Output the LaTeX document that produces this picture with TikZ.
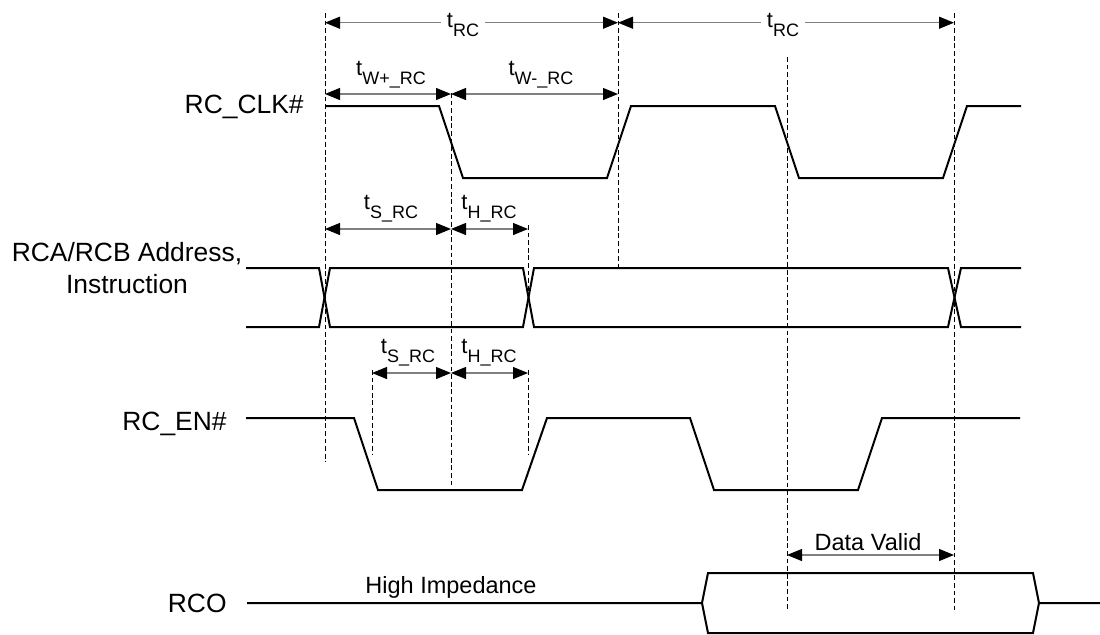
\documentclass[tikz,border=0pt]{standalone}
\usepackage{fontspec}
\setmainfont{Liberation Sans}
\usetikzlibrary{arrows.meta}

\newcommand{\tlab}[1]{{\fontsize{11}{13}\selectfont t\raisebox{-4.5pt}{\fontsize{9}{9}\selectfont #1}}}

\tikzset{
  wave/.style={line width=1pt, line join=miter},
  mark line/.style={line width=0.5pt, dash pattern=on 2.4pt off 1.4pt},
  dim/.style={gray, line width=0.6pt,
    {Triangle[length=7.5pt, width=6pt, color=black]}-{Triangle[length=7.5pt, width=6pt, color=black]}},
  sig/.style={font=\fontsize{13.2}{16}\selectfont, inner sep=0pt},
  note/.style={font=\fontsize{11.75}{14}\selectfont, inner sep=0pt},
  tl/.style={inner sep=0pt, anchor=base}
}

\begin{document}
\begin{tikzpicture}[x=0.5pt, y=-0.5pt]
\useasboundingbox (0,0) rectangle (1100,634);

% dashed time marks
\draw[mark line] (325,13) -- (325,462);
\draw[mark line] (451,93) -- (451,485);
\draw[mark line] (618,13) -- (618,268);
\draw[mark line] (787,57) -- (787,610);
\draw[mark line] (954,13) -- (954,610);
\draw[mark line] (528,225) -- (528,298);
\draw[mark line] (528,370) -- (528,455);
\draw[mark line] (372,370) -- (372,455);

% dimension arrows
\draw[dim] (325,22.7) -- (618,22.7);
\draw[dim] (618,22.7) -- (954,22.7);
\draw[dim] (325,94) -- (451,94);
\draw[dim] (451,94) -- (618,94);
\draw[dim] (325,229) -- (451,229);
\draw[dim] (451,229) -- (528,229);
\draw[dim] (372,373) -- (451,373);
\draw[dim] (451,373) -- (528,373);
\draw[dim] (787,555) -- (954,555);

\node[tl, fill=white, inner xsep=3pt] (trc1) at (463,27) {\tlab{RC}};
\node[tl, fill=white, inner xsep=3pt] (trc2) at (783,27) {\tlab{RC}};
\node[tl] (twp) at (391,75) {\tlab{W+\_RC}};
\node[tl] (twm) at (541,75) {\tlab{W-\_RC}};
\node[tl] (ts1) at (391,209) {\tlab{S\_RC}};
\node[tl] (th1) at (489,209) {\tlab{H\_RC}};
\node[tl] (ts2) at (408,353) {\tlab{S\_RC}};
\node[tl] (th2) at (489,353) {\tlab{H\_RC}};

% signal names
\node[sig, anchor=base east] (clk) at (304,113) {RC\_CLK\#};
\node[sig, anchor=base, align=center] (addr) at (127,293) {RCA/RCB Address,\\Instruction};
\node[sig, anchor=base east] (en) at (227,430) {RC\_EN\#};
\node[sig, anchor=base east] (rco) at (227,612) {RCO};

% waveforms
\draw[wave] (325,106) -- (439,106) -- (463,178) -- (607,178) -- (631,106)
  -- (775,106) -- (799,178) -- (943,178) -- (967,106) -- (1021,106);

\draw[wave] (246,268) -- (319,268) -- (330,327) -- (523,327) -- (534,268)
  -- (948,268) -- (961,327) -- (1021,327);
\draw[wave] (246,327) -- (319,327) -- (330,268) -- (523,268) -- (534,327)
  -- (948,327) -- (961,268) -- (1021,268);

\draw[wave] (246,418) -- (354,418) -- (378,490) -- (522,490) -- (547,418)
  -- (690,418) -- (714,490) -- (858,490) -- (882,418) -- (1020,418);

\draw[wave] (247,603) -- (702,603) -- (708,573) -- (1033,573) -- (1039,603) -- (1100,603);
\draw[wave] (702,603) -- (708,633) -- (1033,633) -- (1039,603);

\node[note, anchor=base] (hiz) at (451,593) {High Impedance};
\node[note, anchor=base] (dv) at (868,550) {Data Valid};

\end{tikzpicture}
\end{document}
